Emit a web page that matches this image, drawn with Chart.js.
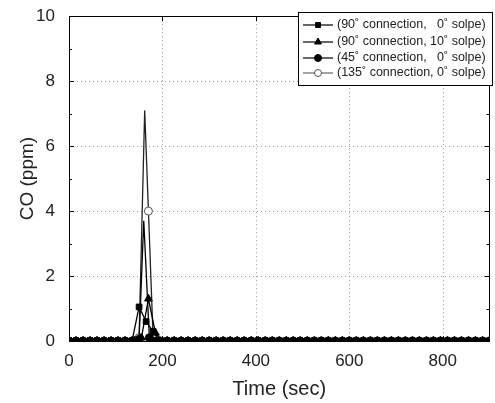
<!DOCTYPE html>
<html>
<head>
<meta charset="utf-8">
<script src="https://cdn.jsdelivr.net/npm/chart.js@4/dist/chart.umd.min.js"></script>
<style>
html,body{margin:0;padding:0;background:#fff}
#wrap{width:495px;height:403px}
</style>
</head>
<body>
<div id="wrap"><canvas id="c" width="495" height="403"></canvas></div>
<script>
// baseline sampling (sec) and readings (ppm), shared by all runs
const baseTime=[0,15,30,45,60,75,90,105,120,135,150,165,180,195,210,225,240,255,270,285,300,315,330,345,360,375,390,405,420,435,450,465,480,495,510,525,540,555,570,585,600,615,630,645,660,675,690,705,720,735,750,765,780,795,810,825,840,855,870,885,900]
const baseCO=[0,0,0,0,0,0,0,0,0,0,0,0,0,0,0,0,0,0,0,0,0,0,0,0,0,0,0,0,0,0,0,0,0,0,0,0,0,0,0,0,0,0,0,0,0,0,0,0,0,0,0,0,0,0,0,0,0,0,0,0,0]

const labels=["(90˚ connection,   0˚ solpe)","(90˚ connection, 10˚ solpe)","(45˚ connection,   0˚ solpe)","(135˚ connection, 0˚ solpe)"]

// spike section of each run
const spikeT1=[135,150,165,180,195]
const spikeCO1=[0,1.05,0.6,0.3,0]
const spikeT2=[140,155,170,185,200]
const spikeCO2=[0,0.1,1.3,0.25,0]
const spikeT3=[140,150,160,172,185]
const spikeCO3=[0,0.05,3.7,0.1,0]
const spikeT4=[140,150,162,170,180,195]
const spikeCO4=[0,0.1,7.1,4.0,0.1,0]
// sample times drawn without a symbol (Origin skip-points)
const unmarked=[[],[],[160],[162]]

const xTicks=[0,200,400,600,800]
const yTicks=[0,2,4,6,8,10]
const yMinor=[1,3,5,7,9]

function build(st,sc){
const pts=[]
baseTime.forEach((t,i)=>{
if(t<st[0]||t>st[st.length-1]) pts.push({x:t,y:baseCO[i]})
})
st.forEach((t,i)=>pts.push({x:t,y:sc[i]}))
pts.sort((a,b)=>a.x-b.x)
return pts
}

const styles=[
{pointStyle:"rect",radius:4,color:"#000",fill:"#000"},
{pointStyle:"triangle",radius:4.5,color:"#000",fill:"#000"},
{pointStyle:"circle",radius:4,color:"#000",fill:"#000"},
{pointStyle:"circle",radius:4,color:"#555",fill:"#fff"}
]

const series=[[spikeT1,spikeCO1],[spikeT2,spikeCO2],[spikeT3,spikeCO3],[spikeT4,spikeCO4]]

const datasets=series.map((s,i)=>({
label:labels[i],
data:build(s[0],s[1]),
showLine:true,
borderColor:i===3?"#222":"#000",
legendLine:i===3?"#666":"#000",
borderWidth:1.3,
pointStyle:styles[i].pointStyle,
legendRadius:styles[i].radius,
pointRadius:c=>c.raw&&unmarked[i].includes(c.raw.x)?0:styles[i].radius,
pointBackgroundColor:styles[i].fill,
pointBorderColor:styles[i].color,
pointBorderWidth:1,
tension:0
}))

const frame={
id:"frame",
beforeDatasetsDraw(chart){
const {ctx,chartArea:a,scales:{x,y}}=chart
ctx.save()
ctx.strokeStyle="#999"
ctx.lineWidth=1
ctx.setLineDash([1,3])
xTicks.forEach(v=>{
if(v===0) return
const px=Math.round(x.getPixelForValue(v))+0.5
ctx.beginPath();ctx.moveTo(px,a.top);ctx.lineTo(px,a.bottom);ctx.stroke()
})
yTicks.forEach(v=>{
if(v===0||v===10) return
const py=Math.round(y.getPixelForValue(v))+0.5
ctx.beginPath();ctx.moveTo(a.left,py);ctx.lineTo(a.right,py);ctx.stroke()
})
ctx.restore()
},
afterDatasetsDraw(chart){
const {ctx,chartArea:a,scales:{x,y}}=chart
ctx.save()
ctx.strokeStyle="#000"
ctx.lineWidth=1
ctx.strokeRect(Math.round(a.left)+0.5,Math.round(a.top)+0.5,Math.round(a.right-a.left)-1,Math.round(a.bottom-a.top))
ctx.beginPath()
yTicks.forEach(v=>{
const py=Math.round(y.getPixelForValue(v))+0.5
ctx.moveTo(a.left,py);ctx.lineTo(a.left+5,py)
ctx.moveTo(a.right,py);ctx.lineTo(a.right-5,py)
})
yMinor.forEach(v=>{
const py=Math.round(y.getPixelForValue(v))+0.5
ctx.moveTo(a.left,py);ctx.lineTo(a.left+3,py)
ctx.moveTo(a.right,py);ctx.lineTo(a.right-3,py)
})
xTicks.forEach(v=>{
const px=Math.round(x.getPixelForValue(v))+0.5
ctx.moveTo(px,a.bottom);ctx.lineTo(px,a.bottom-5)
ctx.moveTo(px,a.top);ctx.lineTo(px,a.top+5)
})
ctx.stroke()

// legend box
const lx=298,ly=12,lw=194,lh=73
ctx.fillStyle="#fff"
ctx.fillRect(lx,ly,lw,lh)
ctx.strokeStyle="#000"
ctx.strokeRect(lx+0.5,ly+0.5,lw,lh)
ctx.font="12.5px 'Liberation Sans', Arial, sans-serif"
ctx.textBaseline="middle"
const rows=[25,42,58,73]
chart.data.datasets.forEach((d,i)=>{
const ry=rows[i]
ctx.strokeStyle=d.legendLine
ctx.lineWidth=1.2
ctx.beginPath();ctx.moveTo(303,ry);ctx.lineTo(333,ry);ctx.stroke()
ctx.fillStyle=d.pointBackgroundColor
ctx.strokeStyle=d.pointBorderColor
ctx.lineWidth=1
Chart.helpers.drawPoint(ctx,{pointStyle:d.pointStyle,radius:d.legendRadius-0.5,borderWidth:1},318,ry)
ctx.fillStyle="#222"
ctx.fillText(d.label,337,ry)
})
ctx.restore()
}
}

const fam="'Liberation Sans', Arial, sans-serif"

new Chart(document.getElementById("c"),{
type:"scatter",
data:{datasets},
options:{
responsive:false,
animation:false,
layout:{padding:{top:12,right:3,left:0,bottom:0}},
plugins:{legend:{display:false},tooltip:{enabled:false}},
scales:{
x:{
type:"linear",min:0,max:900,
afterBuildTicks:s=>{s.ticks=xTicks.map(v=>({value:v}))},
afterFit:s=>{s.height=62},
grid:{display:false},
border:{display:false},
ticks:{color:"#222",padding:2,font:{family:fam,size:17},maxRotation:0},
title:{display:true,text:"Time (sec)",color:"#222",font:{family:fam,size:20},padding:{top:8,bottom:2}}
},
y:{
type:"linear",min:0,max:10,
afterBuildTicks:s=>{s.ticks=yTicks.map(v=>({value:v}))},
afterFit:s=>{s.width=69},
grid:{display:false},
border:{display:false},
ticks:{color:"#222",padding:6,font:{family:fam,size:17}},
title:{display:true,text:"CO (ppm)",color:"#222",font:{family:fam,size:19},padding:{top:16,bottom:8}}
}
}
},
plugins:[frame]
})
</script>
</body>
</html>
